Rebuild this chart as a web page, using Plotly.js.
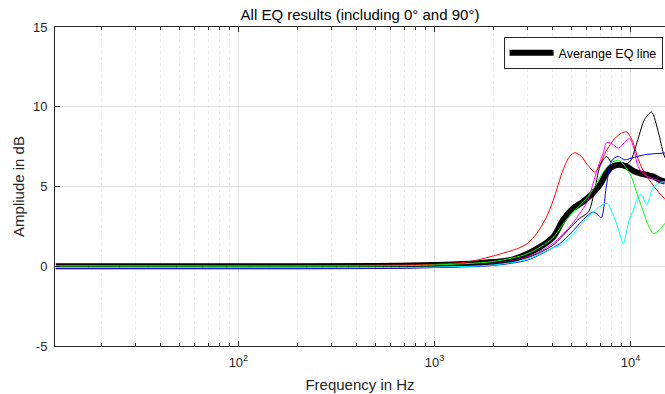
<!DOCTYPE html>
<html>
<head>
<meta charset="utf-8">
<script src="https://cdn.plot.ly/plotly-3.0.1.min.js"></script>
<style>html,body{margin:0;padding:0;background:#fff;overflow:hidden}</style>
</head>
<body>
<div id="chart" style="width:665px;height:394px"></div>
<script>
// ---- data (frequency in Hz, amplitude in dB) ----
const avgFreq = [11.72, 100, 500, 1000, 1500, 2000, 2500, 3000, 3450, 4040, 4530, 5100, 5740, 6330, 6980, 7500, 8000, 8800, 9550, 10500, 11400, 12200, 13100, 14100, 15000];
const avgVals = [0, 0, 0.02, 0.08, 0.16, 0.26, 0.42, 0.8, 1.2, 1.84, 2.9, 3.63, 4.05, 4.5, 5.1, 5.8, 6.2, 6.36, 6.25, 5.94, 5.8, 5.72, 5.62, 5.41, 5.3];

const redFreq = [11.72, 500, 1000, 1500, 2000, 2500, 2730, 3000, 3320, 3700, 4040, 4530, 4900, 5200, 5600, 6000, 6600, 7000, 7500, 8300, 9000, 9550, 10200, 10900, 11500, 12300, 13200, 14000, 15000];
const redVals = [0.05, 0.06, 0.12, 0.28, 0.65, 1.0, 1.17, 1.45, 2.05, 3.0, 4.15, 6.04, 6.9, 7.12, 6.9, 6.4, 5.9, 6.4, 7.2, 8.0, 8.35, 8.42, 7.9, 6.78, 6.1, 5.5, 5.0, 4.6, 4.2];

const magFreq = [11.72, 500, 1000, 2000, 3000, 4000, 5000, 5500, 6000, 6450, 6840, 7260, 7550, 8000, 8700, 9300, 9900, 10400, 10900, 11600, 12800, 15000];
const magVals = [-0.1, -0.1, -0.05, 0.15, 0.6, 1.4, 2.6, 3.3, 4.0, 5.2, 6.25, 7.1, 7.75, 7.7, 7.4, 7.75, 8.0, 7.4, 6.3, 5.8, 5.52, 5.25];

const blkFreq = [11.72, 500, 1000, 2000, 3000, 4000, 5000, 5500, 6100, 6500, 7000, 7550, 8000, 8600, 9300, 10000, 10900, 11800, 12800, 13900, 14700, 15000];
const blkVals = [-0.05, -0.05, 0, 0.15, 0.55, 1.3, 2.5, 3.0, 3.4, 4.5, 6.3, 6.88, 6.5, 6.3, 6.35, 6.6, 7.94, 9.2, 9.66, 8.36, 7.1, 6.8];

const bluFreq = [11.72, 500, 1000, 2000, 3000, 4000, 4360, 5000, 5500, 6000, 6450, 6800, 7100, 7550, 8000, 8650, 9360, 10100, 11800, 15000];
const bluVals = [-0.12, -0.12, -0.08, 0.05, 0.4, 1.15, 1.42, 2.1, 2.68, 3.15, 3.4, 3.25, 3.05, 5.1, 6.6, 6.88, 6.67, 6.78, 6.99, 7.1];

const grnFreq = [11.72, 500, 1000, 2000, 3000, 4000, 4500, 5000, 5500, 6000, 6500, 7000, 7500, 8000, 8700, 9200, 10100, 10700, 11400, 12200, 13100, 14000, 15000];
const grnVals = [0.02, 0.02, 0.08, 0.3, 0.8, 1.75, 2.6, 3.3, 3.8, 4.3, 4.9, 5.6, 6.15, 6.5, 6.65, 6.4, 5.62, 4.7, 3.73, 2.7, 2.05, 2.25, 2.7];

const cyaFreq = [11.72, 500, 1000, 2000, 3000, 4000, 4360, 5000, 5500, 6000, 6450, 7000, 7600, 8300, 8700, 9180, 9800, 10400, 11100, 11500, 12100, 13000, 14000, 15000];
const cyaVals = [-0.08, -0.08, -0.05, 0.08, 0.45, 1.15, 1.3, 1.9, 2.5, 3.0, 3.4, 3.75, 3.94, 3.0, 2.3, 1.42, 2.8, 3.6, 4.5, 4.4, 3.85, 4.9, 5.2, 5.3];

const xTickVals = [100, 1000, 10000];
const xTickText = ['10<sup>2</sup>', '10<sup>3</sup>', '10<sup>4</sup>'];
const yTickVals = [-5, 0, 5, 10, 15];
const yTickText = ['-5', '0', '5', '10', '15'];

const legendName = 'Averange EQ line';
const titleText = 'All EQ results (including 0° and 90°)';
const xTitle = 'Frequency in Hz';
const yTitle = 'Ampliude in dB';

// ---- traces ----
const FONT = 'Liberation Sans, Arial, Helvetica, sans-serif';
function thin(x, y, color) {
  return {x: x, y: y, type: 'scatter', mode: 'lines', showlegend: false,
          line: {color: color, width: 1, shape: 'spline', smoothing: 0.8}, hoverinfo: 'skip'};
}
const traces = [
  {x: avgFreq, y: avgVals, type: 'scatter', mode: 'lines', name: legendName,
   line: {color: '#000000', width: 6, shape: 'spline', smoothing: 0.8}},
  thin(redFreq, redVals, '#ff0000'),
  thin(magFreq, magVals, '#ff00ff'),
  thin(blkFreq, blkVals, '#000000'),
  thin(bluFreq, bluVals, '#0000ff'),
  thin(grnFreq, grnVals, '#00ff00'),
  thin(cyaFreq, cyaVals, '#00ffff')
];

const layout = {
  width: 665, height: 394,
  margin: {l: 55, r: 0, t: 27, b: 48, pad: 0},
  paper_bgcolor: '#ffffff', plot_bgcolor: '#ffffff',
  font: {family: FONT, color: '#262626', size: 13},
  title: {text: titleText, font: {family: FONT, size: 15, color: '#000000'},
          x: 0.5, xref: 'paper', xanchor: 'center', y: 1 - 15/394, yref: 'container', yanchor: 'middle'},
  showlegend: true,
  legend: {x: 0.996, xanchor: 'right', y: 0.968, yanchor: 'top', itemwidth: 44,
           bgcolor: '#ffffff', bordercolor: '#262626', borderwidth: 1,
           font: {family: FONT, size: 12.5, color: '#000000'}},
  xaxis: {
    type: 'log', range: [Math.log10(11.6), Math.log10(15000)],
    tickmode: 'array', tickvals: xTickVals, ticktext: xTickText,
    ticks: 'inside', ticklen: 5, tickcolor: '#262626', tickwidth: 1,
    ticklabelstandoff: 4,
    showline: true, linecolor: '#262626', linewidth: 1, mirror: 'ticks',
    showgrid: true, gridcolor: '#e0e0e0', gridwidth: 1,
    minor: {dtick: 'D1', ticks: 'inside', ticklen: 3, tickcolor: '#262626',
            showgrid: true, gridcolor: '#ececec', griddash: 'dot', gridwidth: 1},
    zeroline: false,
    tickfont: {family: FONT, size: 13, color: '#262626'},
    title: {text: xTitle, font: {family: FONT, size: 15, color: '#262626'}, standoff: 10}
  },
  yaxis: {
    range: [-5, 15],
    tickmode: 'array', tickvals: yTickVals, ticktext: yTickText,
    ticks: 'inside', ticklen: 5, tickcolor: '#262626', tickwidth: 1,
    ticklabelstandoff: 4,
    showline: true, linecolor: '#262626', linewidth: 1, mirror: false,
    showgrid: true, gridcolor: '#e0e0e0', gridwidth: 1,
    zeroline: false,
    tickfont: {family: FONT, size: 13, color: '#262626'},
    title: {text: yTitle, font: {family: FONT, size: 15, color: '#262626'}, standoff: 4}
  }
};

Plotly.newPlot('chart', traces, layout, {staticPlot: true, displayModeBar: false});
</script>
</body>
</html>
